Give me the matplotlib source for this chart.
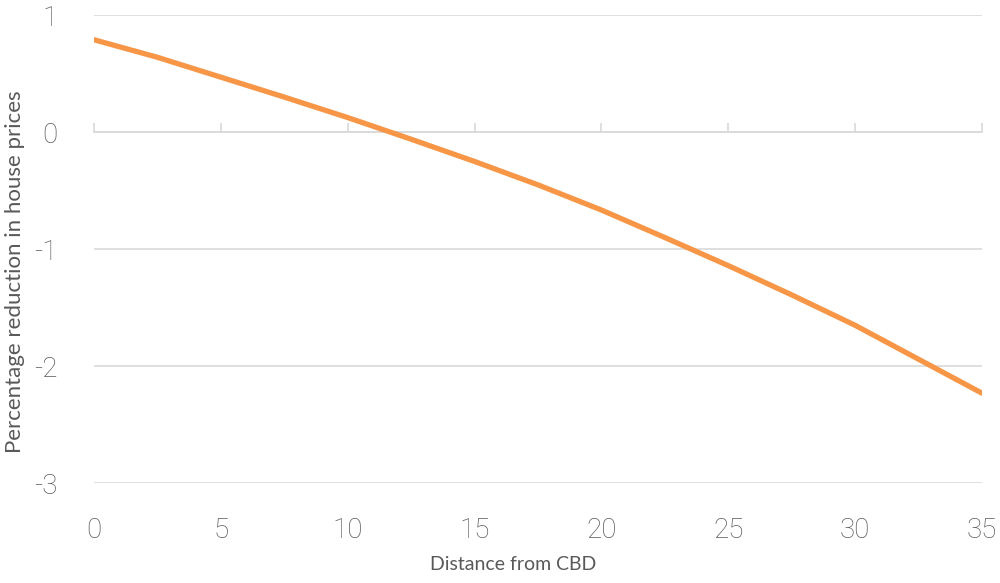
import matplotlib.pyplot as plt

distance = [0, 2.5, 5, 7.5, 10, 12.5, 15, 17.5, 20, 22.5, 25, 27.5, 30, 32.5, 35]
reduction = [0.79, 0.64, 0.47, 0.30, 0.125, -0.06, -0.25, -0.45, -0.665, -0.90,
             -1.14, -1.39, -1.65, -1.94, -2.23]
x_ticks = [0, 5, 10, 15, 20, 25, 30, 35]
y_ticks = [-3, -2, -1, 0, 1]

plt.rcParams['font.family'] = ['Lato', 'DejaVu Sans']
plt.rcParams['axes.unicode_minus'] = False
grid_col = '#D9D9D9'
text_col = '#595959'

fig = plt.figure(figsize=(10, 5.83), dpi=100)
ax = fig.add_axes([0.094, 0.171, 0.888, 0.803])

ax.plot(distance, reduction, color='#F79646', linewidth=3.8, solid_capstyle='round', zorder=3)

ax.set_xlim(0, 35)
ax.set_ylim(-3, 1)
ax.set_xticks(x_ticks)
ax.set_yticks(y_ticks)
ax.grid(axis='y', color=grid_col, linewidth=1.2)
ax.set_axisbelow(True)
for s in ax.spines.values():
    s.set_visible(False)

ax.tick_params(axis='both', length=0, labelsize=20, labelcolor=text_col)
ax.tick_params(axis='x', pad=24)
ax.tick_params(axis='y', pad=26)
for lab in ax.get_xticklabels() + ax.get_yticklabels():
    lab.set_family(['Roboto', 'DejaVu Sans'])
    lab.set_fontweight('light')

# tick marks on the line where the axis crosses y = 0
sec = ax.secondary_xaxis(0.75)
sec.set_xticks(x_ticks)
sec.set_xticklabels([])
sec.tick_params(axis='x', direction='out', length=6.5, width=1.2, color=grid_col)
for s in sec.spines.values():
    s.set_color(grid_col)
    s.set_linewidth(1.2)

ax.set_xlabel('Distance from CBD', fontsize=14, color=text_col)
ax.xaxis.set_label_coords(0.472, -0.174)
ax.xaxis.label.set_va('center')
ax.set_ylabel('Percentage reduction in house prices', fontsize=16, color=text_col)
ax.yaxis.set_label_coords(-0.089, 0.453)
ax.yaxis.label.set_va('center')

plt.savefig('out.png', dpi=100)
